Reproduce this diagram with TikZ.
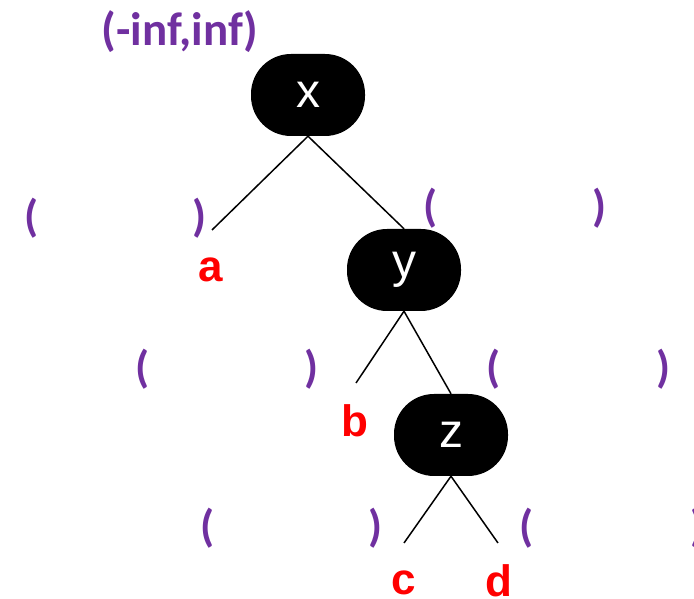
\documentclass[tikz,border=0pt]{standalone}
\usepackage{fontspec}
\setmainfont{Liberation Sans}
\newfontfamily\calib{Carlito}
\definecolor{rng}{RGB}{112,48,160}
\definecolor{lbl}{RGB}{255,0,0}
\begin{document}
\begin{tikzpicture}[x=1pt,y=1pt,
  tnode/.style={fill=black,rounded corners=40pt,minimum width=114pt,minimum height=82pt,inner sep=0pt,text=white,font=\fontsize{48}{48}\selectfont},
  par/.style={text=rng,inner sep=0pt,font=\calib\bfseries\fontsize{45}{45}\selectfont},
  leaf/.style={text=lbl,inner sep=0pt,font=\bfseries\fontsize{44}{44}\selectfont},
  edge/.style={line width=1.5pt,black}]
\useasboundingbox (0,0) rectangle (694,599);
% tree nodes
\node[tnode] (x) at (308,504) {x};
\node[tnode] (y) at (404,329) {y};
\node[tnode] (z) at (451,164) {z};
% free ends
\coordinate (ea) at (212,369);
\coordinate (eb) at (356,216);
\coordinate (ec) at (404,56);
\coordinate (ed) at (498,56);
% edges
\draw[edge] (x.south) -- (ea);
\draw[edge] (x.south) -- (y.north);
\draw[edge] (y.south) -- (eb);
\draw[edge] (y.south) -- (z.north);
\draw[edge] (z.south) -- (ec);
\draw[edge] (z.south) -- (ed);
% leaf labels
\node[leaf] (la) at (211,329) {a};
\node[leaf] (lb) at (355,178) {b};
\node[leaf] (lc) at (404,16) {c};
\node[leaf] (ld) at (499,18) {d};
% ranges
\node[par,font=\calib\bfseries\fontsize{47}{47}\selectfont] (r0) at (180,567) {(-inf,inf)};
\node[par] (p1) at (32,381) {(};
\node[par] (q1) at (200,381) {)};
\node[par] (p2) at (431,391) {(};
\node[par] (q2) at (600,391) {)};
\node[par] (p3) at (143,230) {(};
\node[par] (q3) at (312,230) {)};
\node[par] (p4) at (494,230) {(};
\node[par] (q4) at (664,230) {)};
\node[par] (p5) at (208,71) {(};
\node[par] (q5) at (376,71) {)};
\node[par] (p6) at (527,71) {(};
\node[par] (q6) at (698,71) {)};
\end{tikzpicture}
\end{document}
